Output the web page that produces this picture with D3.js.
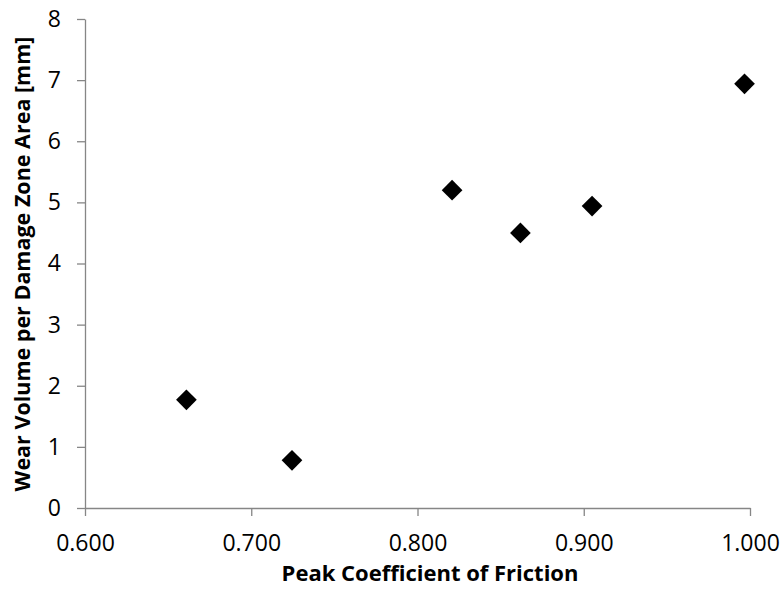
<!DOCTYPE html>
<html>
<head>
<meta charset="utf-8">
<script src="https://cdn.jsdelivr.net/npm/d3@7"></script>
<style>
  html, body { margin: 0; padding: 0; background: #fff; }
  svg { display: block; }
  .tick text { font-family: "Open Sans", sans-serif; font-size: 23px; fill: #000; }
  .axis-title { font-family: "Open Sans", sans-serif; font-weight: bold; fill: #000; }
</style>
</head>
<body>
<script>
// Peak coefficient of friction vs. wear volume per damage zone area
const frictionCoef = [0.661, 0.7245, 0.8208, 0.8619, 0.905, 0.9967];
const wearVolume   = [1.77, 0.78, 5.20, 4.50, 4.94, 6.94];
const xTicks = [0.6, 0.7, 0.8, 0.9, 1.0];
const yTicks = [0, 1, 2, 3, 4, 5, 6, 7, 8];
const xTitle = "Peak Coefficient of Friction";
const yTitle = "Wear Volume per Damage Zone Area [mm]";

const W = 783, H = 593;
const margin = { left: 85, right: 33, top: 19, bottom: 85 };

const svg = d3.select("body").append("svg")
  .attr("width", W).attr("height", H);

const x = d3.scaleLinear().domain([0.6, 1.0]).range([margin.left, W - margin.right]);
const y = d3.scaleLinear().domain([0, 8]).range([H - margin.bottom, margin.top]);

const axisColor = "#868686";

const xAxis = svg.append("g")
  .attr("transform", `translate(0,${y(0)})`)
  .call(d3.axisBottom(x).tickValues(xTicks).tickFormat(d3.format(".3f")).tickSize(8).tickSizeOuter(0).tickPadding(19));

const yAxis = svg.append("g")
  .attr("transform", `translate(${x(0.6)},0)`)
  .call(d3.axisLeft(y).tickValues(yTicks).tickFormat(d3.format("d")).tickSize(8).tickSizeOuter(0).tickPadding(16));

[xAxis, yAxis].forEach(g => {
  g.select(".domain").attr("stroke", axisColor).attr("stroke-width", 1.3);
  g.selectAll(".tick line").attr("stroke", axisColor).attr("stroke-width", 1.3);
});

// data markers: filled diamonds
const diamond = d3.symbol().type(d3.symbolSquare).size(214);
svg.append("g").selectAll("path")
  .data(frictionCoef.map((v, i) => [v, wearVolume[i]]))
  .join("path")
  .attr("d", diamond)
  .attr("transform", d => `translate(${x(d[0])},${y(d[1])}) rotate(45)`)
  .attr("fill", "#000");

svg.append("text")
  .attr("class", "axis-title")
  .attr("x", 430).attr("y", 581)
  .attr("text-anchor", "middle")
  .style("font-size", "22px")
  .text(xTitle);

svg.append("text")
  .attr("class", "axis-title")
  .attr("transform", `translate(30,264) rotate(-90)`)
  .attr("text-anchor", "middle")
  .style("font-size", "21.5px")
  .text(yTitle);
</script>
</body>
</html>
